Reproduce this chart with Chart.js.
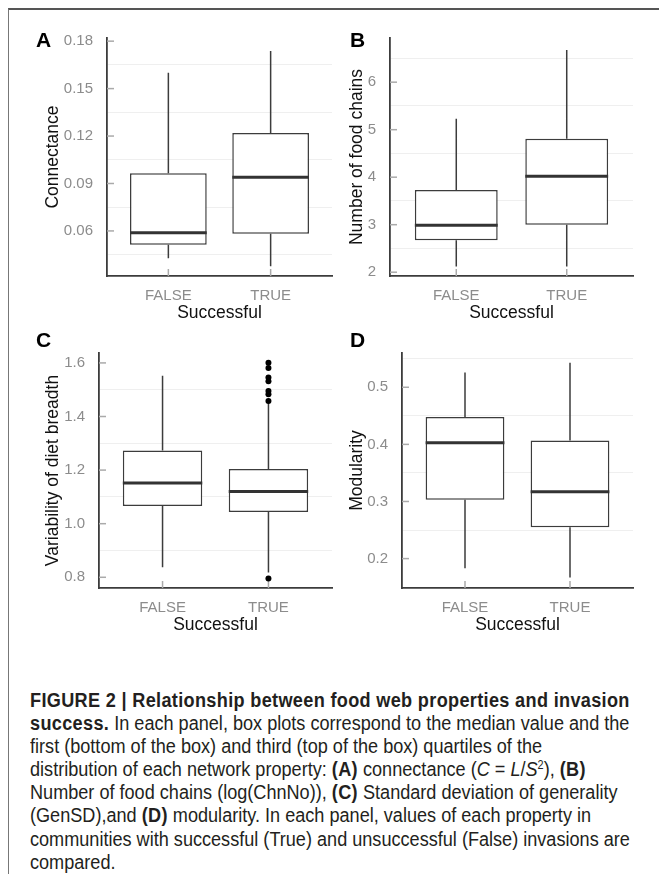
<!DOCTYPE html>
<html>
<head>
<meta charset="utf-8">
<script src="https://cdn.jsdelivr.net/npm/chart.js@4.4.0/dist/chart.umd.min.js"></script>
<style>
  html, body { margin: 0; padding: 0; background: #fff; }
  body { width: 659px; height: 874px; position: relative; overflow: hidden; font-family: "Liberation Sans", Arial, sans-serif; }
  #frame { position: absolute; left: 8px; top: 8px; right: -2px; bottom: -2px; border-top: 2px solid #555; border-left: 1px solid #777; }
  canvas { position: absolute; }
  .tag { position: absolute; font-weight: bold; font-size: 21px; line-height: 21px; color: #000; }
  .caption { position: absolute; left: 30px; top: 689px; font-size: 20px; line-height: 23.1px; color: #231f20;
             transform: scaleX(0.905); transform-origin: 0 0; white-space: nowrap; }
  .caption b { letter-spacing: 0.37px; }
  .caption sup { font-size: 12px; line-height: 0; vertical-align: 7px; }
</style>
</head>
<body>
<div id="frame"></div>

<canvas id="panelA" width="320" height="320" style="left:20px;top:15px"></canvas>
<canvas id="panelB" width="320" height="320" style="left:335px;top:15px"></canvas>
<canvas id="panelC" width="320" height="310" style="left:20px;top:330px"></canvas>
<canvas id="panelD" width="320" height="310" style="left:335px;top:330px"></canvas>

<div class="tag" style="left:36px;top:29px">A</div>
<div class="tag" style="left:350px;top:29px">B</div>
<div class="tag" style="left:36px;top:329px">C</div>
<div class="tag" style="left:350px;top:329px">D</div>

<div class="caption">
  <div><b>FIGURE 2 | Relationship between food web properties and invasion</b></div>
  <div><b>success.</b> In each panel, box plots correspond to the median value and the</div>
  <div>first (bottom of the box) and third (top of the box) quartiles of the</div>
  <div>distribution of each network property: <b>(A)</b> connectance (<i>C</i> = <i>L</i>/<i>S</i><sup>2</sup>), <b>(B)</b></div>
  <div>Number of food chains (log(ChnNo)), <b>(C)</b> Standard deviation of generality</div>
  <div>(GenSD),and <b>(D)</b> modularity. In each panel, values of each property in</div>
  <div>communities with successful (True) and unsuccessful (False) invasions are</div>
  <div>compared.</div>
</div>

<script>
// categories on the x axis
const groups = ["FALSE", "TRUE"];

// box stats per group: [lower whisker, Q1, median, Q3, upper whisker]
const connFALSE = [0.0427, 0.0513, 0.0588, 0.0965, 0.160];
const connTRUE  = [0.0377, 0.0582, 0.0940, 0.1219, 0.1738];

const chainFALSE = [2.12, 2.67, 2.99, 3.73, 5.23];
const chainTRUE  = [2.12, 3.00, 4.02, 4.81, 6.68];

const dietFALSE = [0.837, 1.066, 1.152, 1.273, 1.552];
const dietTRUE  = [0.818, 1.044, 1.120, 1.204, 1.450];
const dietOutTRUE = [1.601, 1.581, 1.546, 1.532, 1.495, 1.483, 1.458, 0.795];

const modFALSE = [0.183, 0.303, 0.403, 0.448, 0.526];
const modTRUE  = [0.167, 0.255, 0.317, 0.407, 0.543];

// y tick labels
const connTicks  = [0.06, 0.09, 0.12, 0.15, 0.18];
const chainTicks = [2, 3, 4, 5, 6];
const dietTicks  = [0.8, 1.0, 1.2, 1.4, 1.6];
const modTicks   = [0.2, 0.3, 0.4, 0.5];

// --- styles ---
const FONT = "Liberation Sans";
const TITLE_SIZE = 17.5;
const TITLE_LH = TITLE_SIZE * 1.2;
const LINE = "#3c3c3c";
const TICK_GRAY = "#8c8c8c";
const BOX_WIDTH = 0.75;

// short tick marks drawn inside the panel, like the original figure
const innerTicks = {
  id: "innerTicks",
  beforeDatasetsDraw(chart) {
    const { ctx, chartArea, scales } = chart;
    ctx.save();
    ctx.strokeStyle = "#aaaaaa";
    ctx.lineWidth = 1.5;
    scales.y.ticks.filter(t => !t.minor).forEach(t => {
      const y = scales.y.getPixelForValue(t.value);
      ctx.beginPath();
      ctx.moveTo(chartArea.left, y);
      ctx.lineTo(chartArea.left + 7, y);
      ctx.stroke();
    });
    scales.x.ticks.forEach(t => {
      const x = scales.x.getPixelForValue(t.value);
      ctx.beginPath();
      ctx.moveTo(x, chartArea.bottom);
      ctx.lineTo(x, chartArea.bottom - 7);
      ctx.stroke();
    });
    ctx.restore();
  }
};

function makePanel(id, spec) {
  const [cl, ct] = spec.canvasAt;
  const canvas = document.getElementById(id);
  const cw = canvas.width, ch = canvas.height;
  const [pl, pt, pr, pb] = spec.plot;
  const padLeft = spec.yTitleX - TITLE_LH / 2 - cl;
  const padBottom = ct + ch - (spec.xTitleY + TITLE_LH / 2);
  const yWidth = pl - cl - padLeft;
  const xHeight = spec.xTitleY + TITLE_LH / 2 - pb;

  const stats = spec.stats;
  const half = BOX_WIDTH / 2;

  const boxes = stats.map((s, i) => ({ x: i + 1, y: [s[1], s[3]] }));
  const whiskers = [];
  const medians = [];
  stats.forEach((s, i) => {
    whiskers.push({ x: i + 1, y: s[0] }, { x: i + 1, y: s[1] }, { x: i + 1, y: null },
                  { x: i + 1, y: s[3] }, { x: i + 1, y: s[4] }, { x: i + 1, y: null });
    medians.push({ x: i + 1 - half, y: s[2] }, { x: i + 1 + half, y: s[2] }, { x: i + 1, y: null });
  });
  const outliers = [];
  (spec.outliers || []).forEach((vals, i) => vals.forEach(v => outliers.push({ x: i + 1, y: v })));

  // majors plus the faint minor lines half way between them
  const step = spec.yTicks[1] - spec.yTicks[0];
  const yTickObjs = [];
  spec.yTicks.forEach(v => {
    yTickObjs.push({ value: v });
    yTickObjs.push({ value: v - step / 2, minor: true });
  });
  yTickObjs.push({ value: spec.yTicks[spec.yTicks.length - 1] + step / 2, minor: true });
  const yTicksIn = yTickObjs.filter(t => t.value >= spec.yMin && t.value <= spec.yMax)
                            .sort((a, b) => a.value - b.value);

  return new Chart(canvas, {
    type: "bar",
    data: {
      datasets: [
        { type: "bar", data: boxes, backgroundColor: "#ffffff", borderColor: LINE, borderWidth: 1.5,
          borderSkipped: false, barPercentage: BOX_WIDTH, categoryPercentage: 1, order: 4 },
        { type: "line", data: whiskers, borderColor: LINE, borderWidth: 1.5, pointRadius: 0,
          spanGaps: false, order: 3 },
        { type: "line", data: medians, borderColor: "#333333", borderWidth: 3, pointRadius: 0,
          spanGaps: false, borderCapStyle: "butt", order: 2 },
        { type: "scatter", data: outliers, pointRadius: 3, backgroundColor: "#000000",
          borderWidth: 0, order: 1 }
      ]
    },
    options: {
      responsive: false,
      animation: false,
      layout: { padding: { left: padLeft, top: pt - ct, right: cl + cw - pr, bottom: padBottom } },
      plugins: { legend: { display: false }, tooltip: { enabled: false } },
      scales: {
        x: {
          type: "linear", min: 0.4, max: 2.6, offset: false,
          afterBuildTicks: s => { s.ticks = groups.map((g, i) => ({ value: i + 1 })); },
          afterFit: s => { s.height = xHeight; },
          ticks: { callback: v => groups[v - 1], color: TICK_GRAY, font: { family: FONT, size: 15 },
                   padding: 11, autoSkip: false, maxRotation: 0 },
          grid: { display: false, drawTicks: false },
          border: { display: true, color: LINE, width: 1.8 },
          title: { display: true, text: "Successful", color: "#111", padding: 0,
                   font: { family: FONT, size: TITLE_SIZE } }
        },
        y: {
          min: spec.yMin, max: spec.yMax,
          afterBuildTicks: s => { s.ticks = yTicksIn.map(t => ({ ...t })); },
          afterFit: s => { s.width = yWidth; },
          ticks: { callback: (v, i, t) => t[i].minor ? "" : v.toFixed(spec.dec), color: TICK_GRAY,
                   font: { family: FONT, size: 15 }, padding: 14, autoSkip: false },
          grid: { drawTicks: false, lineWidth: 1,
                  color: c => (c.tick && c.tick.minor) ? "#efefef" : "rgba(0,0,0,0)" },
          border: { display: true, color: LINE, width: 1.8 },
          title: { display: true, text: spec.yTitle, color: "#111", padding: 0,
                   font: { family: FONT, size: TITLE_SIZE } }
        }
      }
    },
    plugins: [innerTicks]
  });
}

makePanel("panelA", {
  canvasAt: [20, 15], plot: [107, 33, 332, 276], yTitleX: 53, xTitleY: 313,
  stats: [connFALSE, connTRUE], yTicks: connTicks, dec: 2, yMin: 0.0315, yMax: 0.182,
  yTitle: "Connectance"
});
makePanel("panelB", {
  canvasAt: [335, 15], plot: [390, 34, 633, 276], yTitleX: 357, xTitleY: 313,
  stats: [chainFALSE, chainTRUE], yTicks: chainTicks, dec: 0, yMin: 1.92, yMax: 6.93,
  yTitle: "Number of food chains"
});
makePanel("panelC", {
  canvasAt: [20, 330], plot: [99, 348, 332, 588], yTitleX: 53, xTitleY: 625,
  stats: [dietFALSE, dietTRUE], outliers: [[], dietOutTRUE], yTicks: dietTicks, dec: 1,
  yMin: 0.76, yMax: 1.637, yTitle: "Variability of diet breadth"
});
makePanel("panelD", {
  canvasAt: [335, 330], plot: [402, 348, 633, 588], yTitleX: 357, xTitleY: 625,
  stats: [modFALSE, modTRUE], yTicks: modTicks, dec: 1, yMin: 0.1485, yMax: 0.56,
  yTitle: "Modularity"
});
</script>
</body>
</html>
